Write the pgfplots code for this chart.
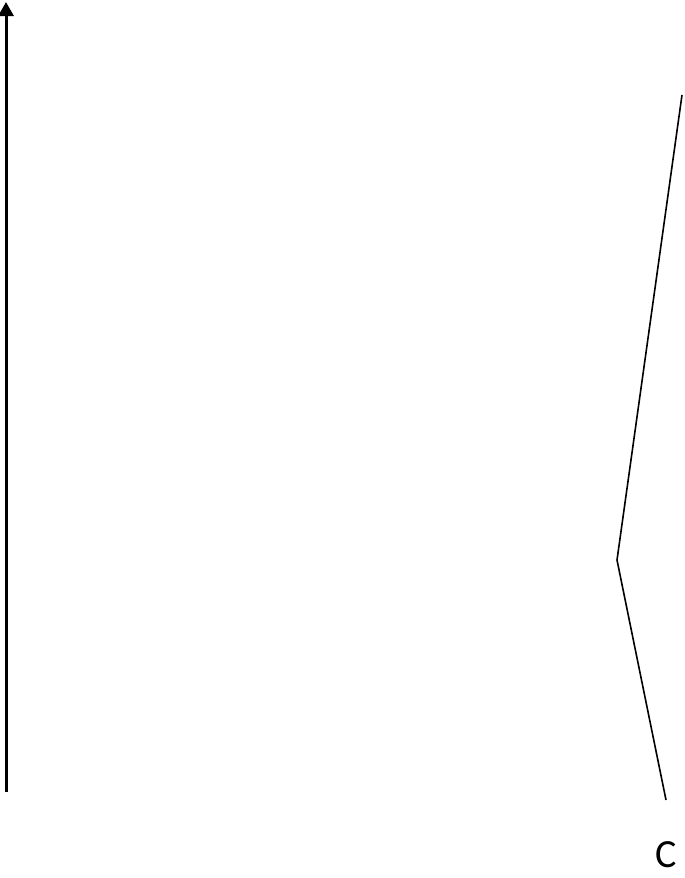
\documentclass[border=0pt]{standalone}
\usepackage{pgfplots}
\pgfplotsset{compat=1.18}
\usepackage{fontspec}
\setmainfont{Carlito}
\usetikzlibrary{arrows.meta}

\begin{document}
\begin{tikzpicture}
  \begin{axis}[
      name=ax,
      hide axis,
      scale only axis,
      width=342.5pt,
      height=439pt,
      xmin=0, xmax=685,
      ymin=0, ymax=878,
      y dir=reverse,
      clip=false
    ]
    % vertical arrow on the left
    \addplot[black, line width=1.5pt, -{Triangle[width=7.5pt,length=7pt]}]
      coordinates {(6,792) (6,2)};
    % bent line C
    \addplot[black, line width=0.8pt] coordinates {(682,95) (617,560) (666,800)};
    \node[font=\fontsize{20}{24}\selectfont] at (axis cs:666,855) {C};
  \end{axis}
  \pgfresetboundingbox
  \path[use as bounding box] (ax.south west) rectangle (ax.north east);
\end{tikzpicture}
\end{document}
